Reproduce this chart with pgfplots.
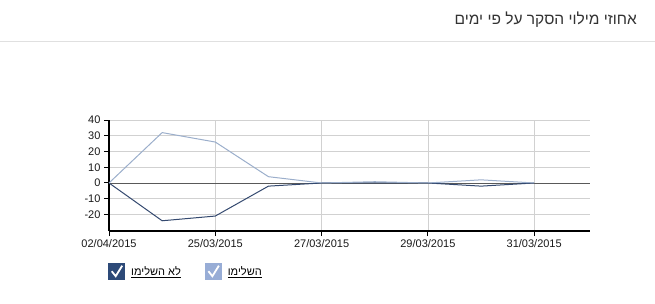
\documentclass[border=0pt]{standalone}
\usepackage{pgfplots}
\pgfplotsset{compat=1.18}
\usepackage{fontspec}
\setmainfont{Liberation Sans}
\newfontfamily\hebfont[Script=Hebrew]{Liberation Sans}
\TeXXeTstate=1
\definecolor{lightser}{HTML}{9BAECB}
\definecolor{darkser}{HTML}{34496F}
\definecolor{boxlight}{HTML}{98ADD6}
\definecolor{boxdark}{HTML}{2D4A78}
\begin{document}
\begin{tikzpicture}
\path[use as bounding box] (0pt,0pt) rectangle (655pt,303pt);
\draw[black!12, line width=0.8pt] (0pt,262pt) -- (655pt,262pt);
\node[anchor=east, text=black!80, font=\hebfont\fontsize{15.5}{18}\selectfont, inner sep=0] at (637pt,283pt) {\beginR אחוזי מילוי הסקר על פי ימים\endR};
\begin{axis}[
  at={(109pt,72pt)}, anchor=south west,
  scale only axis, width=481pt, height=111pt,
  xmin=0, xmax=9.05, ymin=-30.5, ymax=40,
  axis lines=left,
  x axis line style={line width=2.6pt,-},
  y axis line style={line width=2pt,-},
  xtick={0,2,4,6,8},
  xticklabels={02/04/2015,25/03/2015,27/03/2015,29/03/2015,31/03/2015},
  ytick={-20,-10,0,10,20,30,40},
  tick align=outside,
  major tick length=5pt,
  tick style={black, line width=1pt},
  grid=major,
  major grid style={black!18, line width=0.6pt},
  extra y ticks={0},
  extra y tick labels={},
  extra y tick style={grid=major, major grid style={black!65, line width=0.7pt}, major tick length=0pt},
  tick label style={font=\fontsize{11}{13}\selectfont, text=black!90},
  /pgf/number format/assume math mode=true,
  clip=false,
  legend columns=2,
  legend style={at={(-1/481,-32/111)}, anchor=north west, draw=none, fill=none,
    font=\fontsize{11}{13}\selectfont, inner sep=0pt,
    /tikz/every odd column/.append style={column sep=4pt},
    /tikz/every even column/.append style={column sep=22pt}},
]
\addplot[darkser, line width=1pt,
  legend image code/.code={\fill[boxdark] (0pt,-8pt) rectangle (16pt,8pt); \draw[white,line width=1.8pt] (3pt,0.5pt) -- (7pt,-4.5pt) -- (13.5pt,6pt);}]
  coordinates {(0,0) (1,-24) (2,-21) (3,-2) (4,0) (5,0) (6,0) (7,-2) (8,0)};
\addlegendentry{\underline{\hebfont\beginR לא השלימו\endR}}
\addplot[lightser, line width=1pt,
  legend image code/.code={\fill[boxlight] (0pt,-8pt) rectangle (16pt,8pt); \draw[white,line width=1.8pt] (3pt,0.5pt) -- (7pt,-4.5pt) -- (13.5pt,6pt);}]
  coordinates {(0,0) (1,32) (2,26) (3,4) (4,0) (5,0.8) (6,0) (7,2) (8,0)};
\addlegendentry{\underline{\hebfont\beginR השלימו\endR}}
\end{axis}
\end{tikzpicture}
\end{document}
